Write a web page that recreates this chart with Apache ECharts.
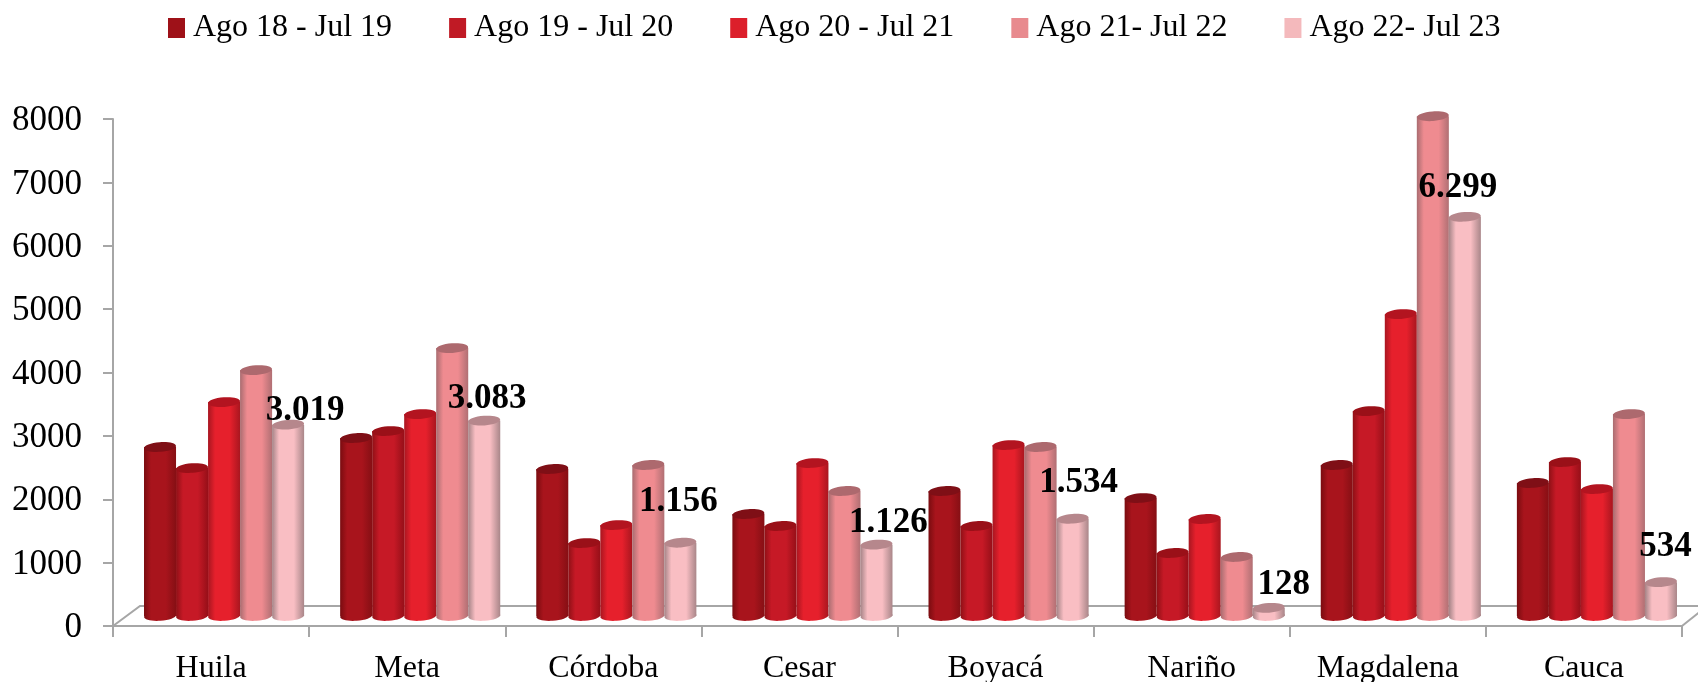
<!DOCTYPE html>
<html><head><meta charset="utf-8">
<style>html,body{margin:0;padding:0;background:#fff}#c{width:1698px;height:682px}</style>
<script src="https://cdn.jsdelivr.net/npm/echarts@6/dist/echarts.min.js"></script>
</head><body><div id="c"></div>
<script>
const categories = ['Huila','Meta','Córdoba','Cesar','Boyacá','Nariño','Magdalena','Cauca'];
const seriesNames = ['Ago 18 - Jul 19','Ago 19 - Jul 20','Ago 20 - Jul 21','Ago 21- Jul 22','Ago 22- Jul 23'];
const ago18 = [2666,2808,2319,1609,1972,1861,2382,2098];
const ago19 = [2334,2918,1151,1420,1420,994,3233,2429];
const ago20 = [3375,3186,1435,2413,2697,1530,4763,2003];
const ago21 = [3880,4227,2382,1972,2666,931,7886,3186];
const ago22 = [3019,3083,1156,1126,1534,128,6299,534];
const yTicks = {min:0,max:8000,interval:1000};

// Styles
const FONT = '"Liberation Serif", serif';
const allValues = [ago18,ago19,ago20,ago21,ago22];
const palette = [
  {legend:'#9e1118',edgeL:'#7a0c10',main:'#a8141c',edgeR:'#860f14',cap:'#7f0f16'},
  {legend:'#c01a25',edgeL:'#8f1016',main:'#c61926',edgeR:'#960f18',cap:'#9a1018'},
  {legend:'#dc1f2b',edgeL:'#a81620',main:'#e6202c',edgeR:'#a9161f',cap:'#b31420'},
  {legend:'#e88a8e',edgeL:'#a96c70',main:'#ef8b90',edgeR:'#b06f73',cap:'#ad696e'},
  {legend:'#f4b9bc',edgeL:'#a58487',main:'#f9bec3',edgeR:'#a98689',cap:'#b6878c'}
];
// projection of the 3D floor, in pixels
const DEPTH_X = 13, DEPTH_Y = -10, BAR_FRACTION = 32/196, TILT = 0.07, CAP_RY = 4.8;
// hand-placed data labels on the last series, relative to the top of its bar
const labelShift = [[17,-14],[3,-22],[-2,-41],[12,-22],[6,-36],[15,-23],[-7,-29],[4.5,-35]];

function fmt(v){ return String(v).replace(/\B(?=(\d{3})+$)/g,'.'); }

function cylinder(sIdx){
  const p = palette[sIdx];
  return function(params, api){
    const i = api.value(0), v = api.value(1);
    const w = api.size([1,0])[0]*BAR_FRACTION;
    const top = api.coord([i,v]), base = api.coord([i,0]);
    const cx = top[0] + DEPTH_X + (sIdx-2)*w;
    const yT = top[1] + DEPTH_Y, yB = base[1] + DEPTH_Y;
    const rx = w/2;
    const grad = new echarts.graphic.LinearGradient(0,0,1,0,[
      {offset:0,color:p.edgeL},{offset:0.22,color:p.main},{offset:0.68,color:p.main},{offset:1,color:p.edgeR}
    ]);
    const children = [
      {type:'ellipse',shape:{cx:0,cy:0,rx:rx,ry:CAP_RY},x:cx,y:yB,rotation:TILT,style:{fill:grad}},
      {type:'rect',shape:{x:cx-rx,y:yT,width:w,height:Math.max(0,yB-yT)},style:{fill:grad}},
      {type:'ellipse',shape:{cx:0,cy:0,rx:rx,ry:CAP_RY},x:cx,y:yT,rotation:TILT,style:{fill:p.cap}}
    ];
    if(sIdx===4){
      children.push({type:'text',z2:100,x:cx+labelShift[i][0],y:yT+labelShift[i][1],
        style:{text:fmt(v),fill:'#000',font:'bold 35px '+FONT,textAlign:'center',textVerticalAlign:'middle'}});
    }
    return {type:'group',children};
  };
}

const floor = {
  type:'custom',name:'floor',silent:true,z:1,
  data:[[0,0]],encode:{x:0,y:1},
  renderItem(params,api){
    const c = params.coordSys, b = c.y+c.height, r = c.x+c.width;
    const ls = {stroke:'#a6a6a6',lineWidth:2,fill:null};
    return {type:'group',children:[
      {type:'polyline',shape:{points:[[c.x,b],[c.x+27,b-20],[r+20,b-20]]},style:ls},
      {type:'line',shape:{x1:r,y1:b,x2:r+20,y2:b-16},style:ls}
    ]};
  }
};

const bars = seriesNames.map((name,s)=>({
  type:'custom',name,z:5+s,
  itemStyle:{color:palette[s].legend},
  data:allValues[s].map((v,i)=>[i,v]),
  encode:{x:0,y:1},
  renderItem:cylinder(s)
}));

const chart = echarts.init(document.getElementById('c'));
chart.setOption({
  animation:false,
  backgroundColor:'#fff',
  legend:{
    data:seriesNames,left:163,top:7,itemWidth:17,itemHeight:20,itemGap:57,
    icon:'rect',
    textStyle:{fontFamily:FONT,fontSize:32,color:'#000',padding:[0,0,0,3]}
  },
  grid:{left:113,right:16,top:119,bottom:56,containLabel:false,outerBoundsMode:'none'},
  xAxis:{
    type:'category',data:categories,
    axisLine:{lineStyle:{color:'#a6a6a6',width:2}},
    axisTick:{show:true,length:11,lineStyle:{color:'#a6a6a6',width:2}},
    axisLabel:{fontFamily:FONT,fontSize:32,color:'#000',margin:27,interval:0}
  },
  yAxis:{
    type:'value',min:yTicks.min,max:yTicks.max,interval:yTicks.interval,
    splitLine:{show:false},
    axisLine:{show:true,lineStyle:{color:'#a6a6a6',width:2}},
    axisTick:{show:true,length:10,lineStyle:{color:'#a6a6a6',width:2}},
    axisLabel:{fontFamily:FONT,fontSize:35,color:'#000',margin:31,verticalAlign:'top',lineHeight:4,
      formatter:v=>String(v)}
  },
  series:[floor].concat(bars)
});
</script></body></html>
